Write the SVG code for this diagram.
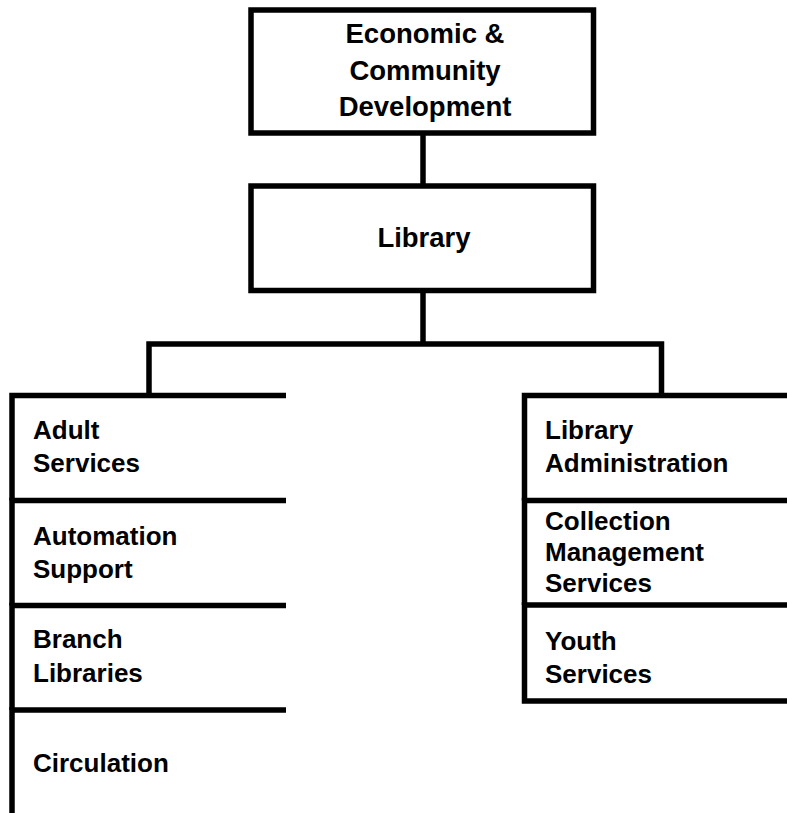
<svg xmlns="http://www.w3.org/2000/svg" width="787" height="813" viewBox="0 0 787 813">
<style>
.box{fill:#fff;stroke:#000;stroke-width:5.5}
.frame{fill:none;stroke:#000;stroke-width:5.5;stroke-linejoin:miter}
.conn{fill:none;stroke:#000;stroke-width:5.5}
text{font-family:"Liberation Sans",Arial,sans-serif;font-weight:bold;fill:#000}
.t{font-size:27.5px;text-anchor:middle}
.s{font-size:26px}
</style>
<rect x="0" y="0" width="787" height="813" fill="#fff"/>
<g id="connectors">
<path class="conn" d="M423 133 V186"/>
<path class="conn" d="M423 290.5 V344"/>
<path class="conn" d="M149 395.5 V344 H661.5 V395.5"/>
</g>
<g id="econ">
<rect class="box" x="251" y="10" width="342.5" height="123"/>
<text class="t" x="425" y="43">Economic &amp;</text>
<text class="t" x="425" y="79.5">Community</text>
<text class="t" x="425" y="115.5">Development</text>
</g>
<g id="library">
<rect class="box" x="251" y="186" width="342.5" height="104.5"/>
<text class="t" x="424" y="247">Library</text>
</g>
<g id="adult">
<path class="frame" d="M286 395.5 H12 V500.5"/>
<text class="s" x="33" y="439">Adult</text>
<text class="s" x="33" y="472">Services</text>
</g>
<g id="automation">
<path class="frame" d="M286 500.5 H12 V605.5"/>
<text class="s" x="33" y="545">Automation</text>
<text class="s" x="33" y="578">Support</text>
</g>
<g id="branch">
<path class="frame" d="M286 605.5 H12 V710"/>
<text class="s" x="33" y="648">Branch</text>
<text class="s" x="33" y="682">Libraries</text>
</g>
<g id="circulation">
<path class="frame" d="M286 710 H12 V816"/>
<text class="s" x="33" y="772">Circulation</text>
</g>
<g id="libadmin">
<path class="frame" d="M790 395.5 H524.5 V500.5"/>
<text class="s" x="545" y="439">Library</text>
<text class="s" x="545" y="472">Administration</text>
</g>
<g id="collection">
<path class="frame" d="M790 500.5 H524.5 V605"/>
<text class="s" x="545" y="530">Collection</text>
<text class="s" x="545" y="561">Management</text>
<text class="s" x="545" y="592">Services</text>
</g>
<g id="youth">
<path class="frame" d="M790 605 H524.5 V701 H790"/>
<text class="s" x="545" y="650">Youth</text>
<text class="s" x="545" y="683">Services</text>
</g>
</svg>
